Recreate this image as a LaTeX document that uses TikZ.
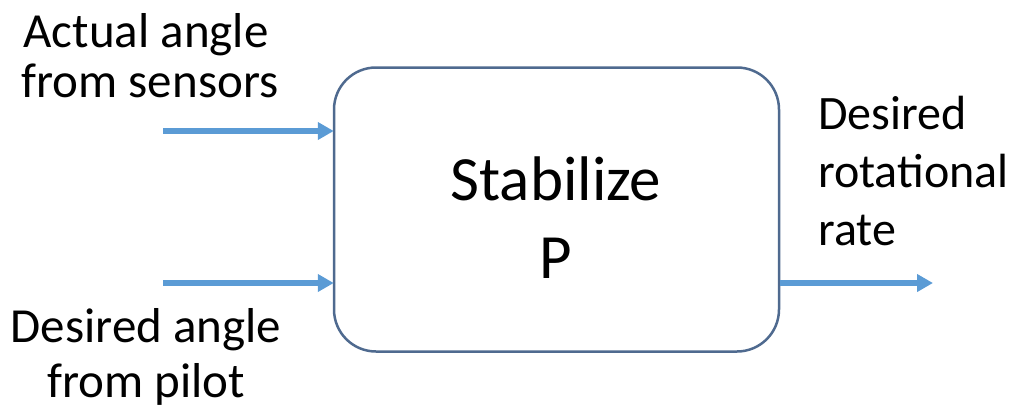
\documentclass[tikz,border=0pt]{standalone}
\usepackage{fontspec}
\setmainfont{Carlito}
\usetikzlibrary{arrows.meta}
\definecolor{arrowblue}{HTML}{5B9BD5}
\definecolor{boxline}{HTML}{4F6A8F}
\tikzset{
  flow/.style={draw=arrowblue, line width=6pt, -{Triangle[length=16pt,width=17pt]}, shorten >=-1pt},
  lbl/.style={inner sep=0pt, anchor=base, font=\fontsize{49}{50}\selectfont},
  rlbl/.style={inner sep=0pt, anchor=base west, font=\fontsize{48}{50}\selectfont},
  clbl/.style={inner sep=0pt, anchor=base, font=\fontsize{63}{64}\selectfont},
  block/.style={draw=boxline, line width=2.5pt, rounded corners=42pt, fill=white, inner sep=0pt}
}
\begin{document}
\begin{tikzpicture}[x=1pt,y=-1pt]
\useasboundingbox (0,0) rectangle (1017,408);
\node[block, minimum width=445pt, minimum height=284pt] (box) at (556.5,209.5) {};
\node[clbl] (t1) at (556,200) {Stabilize};
\node[clbl] (t2) at (556,278) {P};
\node[lbl] (a1) at (146,47) {Actual angle};
\node[lbl] (a2) at (150,97) {from sensors};
\node[lbl] (d1) at (146,342) {Desired angle};
\node[lbl] (d2) at (146,397) {from pilot};
\node[rlbl] (r1) at (818,129) {Desired};
\node[rlbl] (r2) at (818,187) {rotational};
\node[rlbl] (r3) at (818,245) {rate};
\coordinate (in1) at (163,131);
\coordinate (in2) at (163,283);
\coordinate (out) at (932,283);
\draw[flow] (in1) -- (in1 -| box.west);
\draw[flow] (in2) -- (in2 -| box.west);
\draw[flow] (out -| box.east) -- (out);
\end{tikzpicture}
\end{document}
